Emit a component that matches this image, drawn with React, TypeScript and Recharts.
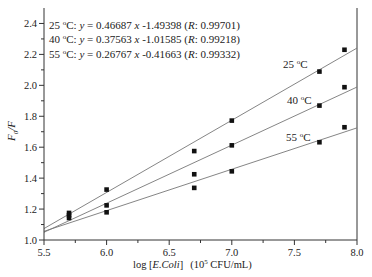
import React from "react";
import {
  ComposedChart,
  Line,
  Scatter,
  XAxis,
  YAxis,
  ReferenceLine,
  Customized,
} from "recharts";

const FONT = "'Liberation Serif', 'Times New Roman', serif";

// Measured points (x = log[E.Coli], y = F0/F)
const x25 = [5.7, 6.0, 6.7, 7.0, 7.7, 7.9];
const y25 = [1.175, 1.326, 1.575, 1.772, 2.089, 2.23];
const x40 = [5.7, 6.0, 6.7, 7.0, 7.7, 7.9];
const y40 = [1.16, 1.224, 1.425, 1.612, 1.869, 1.988];
const x55 = [5.7, 6.0, 6.7, 7.0, 7.7, 7.9];
const y55 = [1.142, 1.179, 1.337, 1.444, 1.632, 1.729];

// Fitted line end points (from the equations in the figure)
const fitX = [5.5, 8.0];
const fit25 = [1.074, 2.241];
const fit40 = [1.05, 1.989];
const fit55 = [1.056, 1.725];

const xMajor = [5.5, 6.0, 6.5, 7.0, 7.5, 8.0];
const xTicks = [5.5, 5.75, 6.0, 6.25, 6.5, 6.75, 7.0, 7.25, 7.5, 7.75, 8.0];
const yMajor = [1.0, 1.2, 1.4, 1.6, 1.8, 2.0, 2.2, 2.4];
const yTicks = [1.0, 1.1, 1.2, 1.3, 1.4, 1.5, 1.6, 1.7, 1.8, 1.9, 2.0, 2.1, 2.2, 2.3, 2.4];

const equations = [
  { t: "25", a: "0.46687", b: "-1.49398", r: "0.99701" },
  { t: "40", a: "0.37563", b: "-1.01585", r: "0.99218" },
  { t: "55", a: "0.26767", b: "-0.41663", r: "0.99332" },
];

const zip = (xs: number[], ys: number[]) => xs.map((x, i) => ({ x, y: ys[i] }));

const isMajor = (list: number[], v: number) => list.some((m) => Math.abs(m - v) < 1e-6);

const AXIS = "#333";

const XTick = (props: any) => {
  const { x, y, payload } = props;
  const major = isMajor(xMajor, payload.value);
  return (
    <g>
      <line x1={x} x2={x} y1={y} y2={y + (major ? 5 : 3)} stroke={AXIS} strokeWidth={1} />
      {major && (
        <text x={x} y={y + 15.5} textAnchor="middle" fontFamily={FONT} fontSize={10.5} fill="#222">
          {payload.value.toFixed(1)}
        </text>
      )}
    </g>
  );
};

const YTick = (props: any) => {
  const { x, y, payload } = props;
  const major = isMajor(yMajor, payload.value);
  return (
    <g>
      <line x1={x} x2={x - (major ? 5 : 3)} y1={y} y2={y} stroke={AXIS} strokeWidth={1} />
      {major && (
        <text x={x - 7} y={y + 4} textAnchor="end" fontFamily={FONT} fontSize={10.5} fill="#222">
          {payload.value.toFixed(1)}
        </text>
      )}
    </g>
  );
};

const Square = (props: any) => {
  const { cx, cy } = props;
  return <rect x={cx - 2.3} y={cy - 2.3} width={4.6} height={4.6} fill="#111" />;
};

const Deg = ({ t }: { t: string }) => (
  <>
    <tspan>{t} </tspan>
    <tspan dy={-4} fontSize={7}>o</tspan>
    <tspan dy={4}>C</tspan>
  </>
);

const Annotations = () => (
  <g fontFamily={FONT} fontSize={11} fill="#222">
    {equations.map((e, i) => (
      <text key={e.t} x={49} y={28.5 + i * 14.5}>
        <Deg t={e.t} />
        <tspan>: </tspan>
        <tspan fontStyle="italic">y</tspan>
        <tspan> = {e.a} </tspan>
        <tspan fontStyle="italic">x</tspan>
        <tspan> {e.b} (</tspan>
        <tspan fontStyle="italic">R</tspan>
        <tspan>: {e.r})</tspan>
      </text>
    ))}
    <text x={283} y={68}>
      <Deg t="25" />
    </text>
    <text x={287} y={104}>
      <Deg t="40" />
    </text>
    <text x={286} y={141}>
      <Deg t="55" />
    </text>
    <text transform="translate(15,131) rotate(-90)" textAnchor="middle" fontStyle="italic">
      <tspan>F</tspan>
      <tspan dy={3} fontSize={7}>0</tspan>
      <tspan dy={-3}>/F</tspan>
    </text>
    <text x={133} y={267.5} fontSize={10.5}>
      <tspan>log [</tspan>
      <tspan fontStyle="italic">E.Coli</tspan>
      <tspan>]</tspan>
      <tspan dx={7}>(10</tspan>
      <tspan dy={-4} fontSize={7}>5</tspan>
      <tspan dy={4}> CFU/mL)</tspan>
    </text>
  </g>
);

export default function App() {
  return (
    <div style={{ position: "absolute", left: 0, top: 0, background: "#fff" }}>
      <ComposedChart
        width={372}
        height={277}
        margin={{ top: 8, right: 15, bottom: 0, left: 0 }}
      >
        <XAxis
          type="number"
          dataKey="x"
          domain={[5.5, 8.0]}
          ticks={xTicks}
          interval={0}
          allowDataOverflow
          height={37}
          tickSize={0}
          tickMargin={0}
          tickLine={false}
          tick={<XTick />}
          axisLine={{ stroke: AXIS, strokeWidth: 1 }}
        />
        <YAxis
          type="number"
          dataKey="y"
          domain={[1.0, 2.5]}
          ticks={yTicks}
          interval={0}
          allowDataOverflow
          width={44}
          tickSize={0}
          tickMargin={0}
          tickLine={false}
          tick={<YTick />}
          axisLine={{ stroke: AXIS, strokeWidth: 1 }}
        />
        <ReferenceLine x={8.0} stroke={AXIS} strokeWidth={1} />
        <Line data={zip(fitX, fit25)} dataKey="y" type="linear" stroke="#777" strokeWidth={0.9} dot={false} activeDot={false} isAnimationActive={false} />
        <Line data={zip(fitX, fit40)} dataKey="y" type="linear" stroke="#777" strokeWidth={0.9} dot={false} activeDot={false} isAnimationActive={false} />
        <Line data={zip(fitX, fit55)} dataKey="y" type="linear" stroke="#777" strokeWidth={0.9} dot={false} activeDot={false} isAnimationActive={false} />
        <Scatter data={zip(x25, y25)} dataKey="y" shape={<Square />} isAnimationActive={false} />
        <Scatter data={zip(x40, y40)} dataKey="y" shape={<Square />} isAnimationActive={false} />
        <Scatter data={zip(x55, y55)} dataKey="y" shape={<Square />} isAnimationActive={false} />
        <Customized component={Annotations} />
      </ComposedChart>
    </div>
  );
}
